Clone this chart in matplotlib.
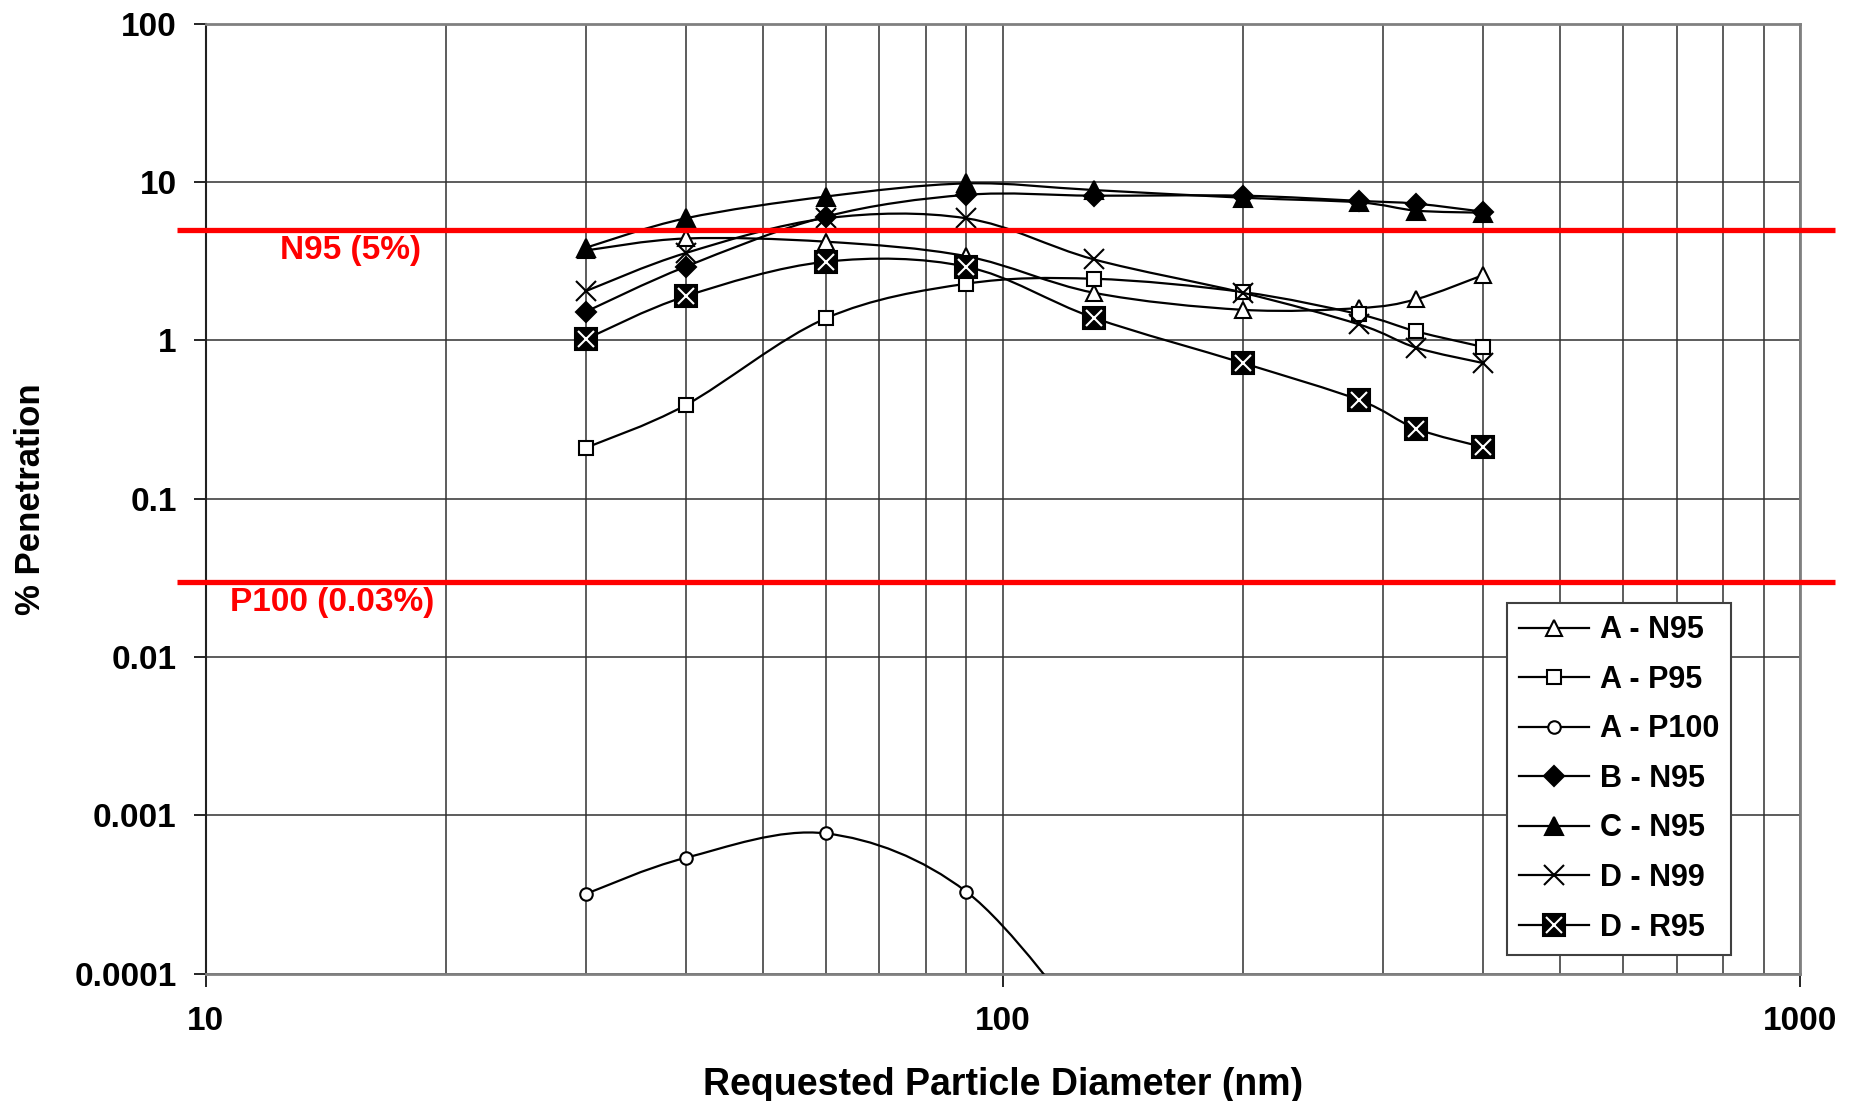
import numpy as np
import matplotlib
matplotlib.use("Agg")
import matplotlib.pyplot as plt
from matplotlib.path import Path
from matplotlib.patches import PathPatch
from matplotlib.lines import Line2D
from matplotlib.legend_handler import HandlerTuple
from matplotlib.ticker import FixedLocator, FixedFormatter, LogLocator, NullFormatter

plt.rcParams['font.family'] = ['Liberation Sans', 'DejaVu Sans']
plt.rcParams['font.weight'] = 'bold'

# particle size (nm) and penetration (%) per respirator
diameter = [30, 40, 60, 90, 130, 200, 280, 330, 400]
a_n95 = [3.7, 4.4, 4.2, 3.4, 2.0, 1.56, 1.6, 1.82, 2.58]
a_p95 = [0.21, 0.39, 1.38, 2.28, 2.45, 2.02, 1.46, 1.14, 0.91]
a_p100_diameter = [30, 40, 60, 90, 130]
a_p100 = [0.00032, 0.00054, 0.00077, 0.00033, 0.00004]
b_n95 = [1.52, 2.92, 6.05, 8.3, 8.2, 8.2, 7.6, 7.3, 6.5]
c_n95 = [3.85, 5.9, 8.1, 9.8, 8.9, 7.96, 7.44, 6.6, 6.4]
d_n99 = [2.05, 3.56, 5.9, 5.9, 3.25, 2.0, 1.26, 0.90, 0.72]
d_r95 = [1.02, 1.9, 3.14, 2.92, 1.39, 0.72, 0.42, 0.277, 0.212]

series_names = ['A - N95', 'A - P95', 'A - P100', 'B - N95', 'C - N95', 'D - N99', 'D - R95']

# certification limits
n95_limit = 5
p100_limit = 0.03

y_ticks = [0.0001, 0.001, 0.01, 0.1, 1, 10, 100]
y_tick_labels = ['0.0001', '0.001', '0.01', '0.1', '1', '10', '100']
x_ticks = [10, 100, 1000]
x_tick_labels = ['10', '100', '1000']


def smooth_path(xs, ys):
    # cubic bezier through the points, tangents taken from the neighbours (log space)
    pts = np.column_stack([np.log10(xs), np.log10(ys)])
    n = len(pts)
    verts = [pts[0]]
    codes = [Path.MOVETO]
    for i in range(n - 1):
        p0 = pts[max(i - 1, 0)]
        p1 = pts[i]
        p2 = pts[i + 1]
        p3 = pts[min(i + 2, n - 1)]
        verts += [p1 + (p2 - p0) / 6, p2 - (p3 - p1) / 6, p2]
        codes += [Path.CURVE4] * 3
    return Path(10 ** np.array(verts), codes)


fig = plt.figure(figsize=(18.53, 11.01), dpi=100)
ax = fig.add_axes([0.111, 0.1155, 0.8604, 0.863])
ax.set_xscale('log')
ax.set_yscale('log')
ax.set_xlim(10, 1000)
ax.set_ylim(0.0001, 100)

lw = 1.6
styles = [
    dict(marker='^', ms=12, mfc='white', mec='black'),
    dict(marker='s', ms=10, mfc='white', mec='black'),
    dict(marker='o', ms=9, mfc='white', mec='black'),
    dict(marker='D', ms=10, mfc='black', mec='black'),
    dict(marker='^', ms=13, mfc='black', mec='black'),
    dict(marker='x', ms=14, mfc='black', mec='black'),
    dict(marker='s', ms=16, mfc='black', mec='black'),
]
data = [
    (diameter, a_n95),
    (diameter, a_p95),
    (a_p100_diameter, a_p100),
    (diameter, b_n95),
    (diameter, c_n95),
    (diameter, d_n99),
    (diameter, d_r95),
]

handles = []
for k, ((xs, ys), st) in enumerate(zip(data, styles)):
    z = 3 + k
    ax.add_patch(PathPatch(smooth_path(xs, ys), facecolor='none', edgecolor='black',
                           lw=lw, zorder=z))
    ax.plot(xs, ys, linestyle='none', mew=1.5, zorder=z + 0.5, **st)
    h = Line2D([], [], color='black', lw=lw, mew=1.5, **st)
    if k == 6:
        ax.plot(xs, ys, linestyle='none', marker='x', ms=11, mec='white', mew=1.5,
                zorder=z + 0.6)
        h = (h, Line2D([], [], linestyle='none', marker='x', ms=11, mec='white', mew=1.5))
    handles.append(h)

# limit lines run a bit past the plot frame
yt = ax.get_yaxis_transform()
for val in (n95_limit, p100_limit):
    ax.plot([-0.018, 1.022], [val, val], color='#ff0000', lw=3.8, transform=yt,
            clip_on=False, zorder=20, solid_capstyle='butt')
ax.annotate('N95 (5%)', xy=(15.2, n95_limit), xytext=(0, -15), textcoords='offset points',
            ha='center', va='center', color='#ff0000', fontsize=24, fontweight='bold', zorder=21)
ax.annotate('P100 (0.03%)', xy=(14.4, p100_limit), xytext=(0, -15), textcoords='offset points',
            ha='center', va='center', color='#ff0000', fontsize=24, fontweight='bold', zorder=21)

# axes, ticks, grid
ax.yaxis.set_major_locator(FixedLocator(y_ticks))
ax.yaxis.set_major_formatter(FixedFormatter(y_tick_labels))
ax.yaxis.set_minor_locator(FixedLocator([]))
ax.xaxis.set_major_locator(FixedLocator(x_ticks))
ax.xaxis.set_major_formatter(FixedFormatter(x_tick_labels))
ax.xaxis.set_minor_locator(LogLocator(base=10, subs=np.arange(2, 10)))
ax.xaxis.set_minor_formatter(NullFormatter())
ax.tick_params(axis='both', which='major', labelsize=24, length=9, width=1.2, direction='out')
ax.tick_params(axis='y', which='major', pad=12)
ax.tick_params(axis='x', which='major', pad=14)
ax.tick_params(axis='x', which='minor', length=0)
ax.tick_params(right=False, top=False)
ax.grid(True, which='major', axis='both', color='#303030', lw=1.1)
ax.grid(True, which='minor', axis='x', color='#303030', lw=1.1)
ax.set_axisbelow(True)

for side in ('top', 'right', 'bottom'):
    ax.spines[side].set_color('#808080')
    ax.spines[side].set_linewidth(2)
ax.spines['left'].set_color('#202020')
ax.spines['left'].set_linewidth(1.5)

ax.set_xlabel('Requested Particle Diameter (nm)', fontsize=27, fontweight='bold')
ax.set_ylabel('% Penetration', fontsize=25, fontweight='bold')
ax.xaxis.set_label_coords(0.5, -0.117)
ax.xaxis.label.set_va('center')
ax.yaxis.set_label_coords(-0.110, 0.5)
ax.yaxis.label.set_va('center')

leg = ax.legend(handles, series_names, loc='lower right', bbox_to_anchor=(0.957, 0.02),
                borderaxespad=0, fontsize=22, frameon=True, fancybox=False, framealpha=1,
                edgecolor='#404040', handlelength=2.3, handletextpad=0.35, labelspacing=0.64,
                borderpad=0.4, handler_map={tuple: HandlerTuple(ndivide=1, pad=0)})
leg.get_frame().set_linewidth(1.5)
leg.set_zorder(30)

fig.savefig('out.png', dpi=100)
